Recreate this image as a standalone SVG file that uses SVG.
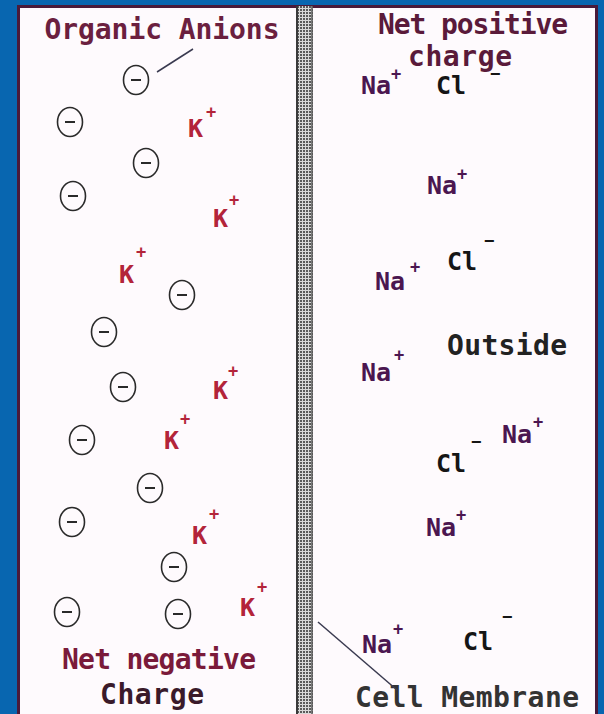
<svg xmlns="http://www.w3.org/2000/svg" width="604" height="714" viewBox="0 0 604 714">
<defs>
<pattern id="dots" x="0" y="0" width="3" height="3" patternUnits="userSpaceOnUse">
<rect width="3" height="3" fill="#d8d8d8"/>
<rect width="2" height="2" fill="#5a5a5a"/>
</pattern>
<style>
.t{font-family:"DejaVu Sans Mono","Liberation Mono",monospace;font-weight:bold}
.title{font-size:28px}
.ion{font-size:25px}
.sup{font-size:17px}
.na{fill:#4b1650}
.cl{fill:#151515}
.k{fill:#b3243a}
.an{fill:none;stroke:#2a2a2a;stroke-width:1.6}
.minus{stroke:#2a2a2a;stroke-width:2}
.lead{stroke:#3a3a50;stroke-width:1.5;fill:none}
</style>
</defs>
<rect x="0" y="0" width="604" height="714" fill="#0866b0"/>
<g id="panel">
<rect x="18.5" y="6.5" width="578" height="710" fill="#fefafd" stroke="#4a1a3a" stroke-width="3"/>
</g>
<g id="membrane">
<rect x="296" y="6" width="17" height="708" fill="url(#dots)"/>
<line x1="297" y1="6" x2="297" y2="714" stroke="#3a3a3a" stroke-width="2"/>
<line x1="312" y1="6" x2="312" y2="714" stroke="#5a5a5a" stroke-width="1.5"/>
</g>
<g id="labels">
<text class="t title" x="162" y="39" fill="#6b1f3f" text-anchor="middle" textLength="235" lengthAdjust="spacing">Organic Anions</text>
<text class="t title" x="473" y="34" fill="#5a1a3a" text-anchor="middle" textLength="190" lengthAdjust="spacing">Net positive</text>
<text class="t title" x="460" y="66" fill="#5a1a3a" text-anchor="middle" textLength="104" lengthAdjust="spacing">charge</text>
<text class="t title" x="159" y="669" fill="#7a1a3a" text-anchor="middle" textLength="194" lengthAdjust="spacing">Net negative</text>
<text class="t title" x="152" y="704" fill="#3a1a2a" text-anchor="middle" textLength="104" lengthAdjust="spacing">Charge</text>
<text class="t title" x="467" y="707" fill="#333333" text-anchor="middle" textLength="224" lengthAdjust="spacing">Cell Membrane</text>
<text class="t title" x="507" y="355" fill="#222222" text-anchor="middle" textLength="120" lengthAdjust="spacing">Outside</text>
</g>
<g id="connectors">
<line class="lead" x1="157" y1="72" x2="193" y2="49"/>
<line class="lead" x1="318" y1="622" x2="397" y2="690"/>
</g>
<g id="anions">
<g id="a1"><ellipse class="an" cx="136" cy="80" rx="12.5" ry="14.5"/><line class="minus" x1="131" y1="80" x2="141" y2="80"/></g>
<g id="a2"><ellipse class="an" cx="70" cy="122" rx="12.5" ry="14.5"/><line class="minus" x1="65" y1="122" x2="75" y2="122"/></g>
<g id="a3"><ellipse class="an" cx="146" cy="163" rx="12.5" ry="14.5"/><line class="minus" x1="141" y1="163" x2="151" y2="163"/></g>
<g id="a4"><ellipse class="an" cx="73" cy="196" rx="12.5" ry="14.5"/><line class="minus" x1="68" y1="196" x2="78" y2="196"/></g>
<g id="a5"><ellipse class="an" cx="182" cy="295" rx="12.5" ry="14.5"/><line class="minus" x1="177" y1="295" x2="187" y2="295"/></g>
<g id="a6"><ellipse class="an" cx="104" cy="332" rx="12.5" ry="14.5"/><line class="minus" x1="99" y1="332" x2="109" y2="332"/></g>
<g id="a7"><ellipse class="an" cx="123" cy="387" rx="12.5" ry="14.5"/><line class="minus" x1="118" y1="387" x2="128" y2="387"/></g>
<g id="a8"><ellipse class="an" cx="82" cy="440" rx="12.5" ry="14.5"/><line class="minus" x1="77" y1="440" x2="87" y2="440"/></g>
<g id="a9"><ellipse class="an" cx="150" cy="488" rx="12.5" ry="14.5"/><line class="minus" x1="145" y1="488" x2="155" y2="488"/></g>
<g id="a10"><ellipse class="an" cx="72" cy="522" rx="12.5" ry="14.5"/><line class="minus" x1="67" y1="522" x2="77" y2="522"/></g>
<g id="a11"><ellipse class="an" cx="174" cy="567" rx="12.5" ry="14.5"/><line class="minus" x1="169" y1="567" x2="179" y2="567"/></g>
<g id="a12"><ellipse class="an" cx="67" cy="612" rx="12.5" ry="14.5"/><line class="minus" x1="62" y1="612" x2="72" y2="612"/></g>
<g id="a13"><ellipse class="an" cx="178" cy="614" rx="12.5" ry="14.5"/><line class="minus" x1="173" y1="614" x2="183" y2="614"/></g>
</g>
<g id="potassium">
<g id="k1"><text class="t ion k" x="188" y="137">K</text><text class="t sup k" x="206" y="118">+</text></g>
<g id="k2"><text class="t ion k" x="213" y="227">K</text><text class="t sup k" x="229" y="206">+</text></g>
<g id="k3"><text class="t ion k" x="119" y="283">K</text><text class="t sup k" x="136" y="258">+</text></g>
<g id="k4"><text class="t ion k" x="213" y="399">K</text><text class="t sup k" x="228" y="377">+</text></g>
<g id="k5"><text class="t ion k" x="164" y="449">K</text><text class="t sup k" x="180" y="425">+</text></g>
<g id="k6"><text class="t ion k" x="192" y="544">K</text><text class="t sup k" x="209" y="520">+</text></g>
<g id="k7"><text class="t ion k" x="240" y="616">K</text><text class="t sup k" x="257" y="593">+</text></g>
</g>
<g id="sodium">
<g id="n1"><text class="t ion na" x="361" y="94">Na</text><text class="t sup na" x="391" y="80">+</text></g>
<g id="n2"><text class="t ion na" x="427" y="194">Na</text><text class="t sup na" x="457" y="180">+</text></g>
<g id="n3"><text class="t ion na" x="375" y="290">Na</text><text class="t sup na" x="410" y="273">+</text></g>
<g id="n4"><text class="t ion na" x="361" y="381">Na</text><text class="t sup na" x="394" y="361">+</text></g>
<g id="n5"><text class="t ion na" x="502" y="443">Na</text><text class="t sup na" x="533" y="428">+</text></g>
<g id="n6"><text class="t ion na" x="426" y="536">Na</text><text class="t sup na" x="456" y="521">+</text></g>
<g id="n7"><text class="t ion na" x="362" y="653">Na</text><text class="t sup na" x="393" y="635">+</text></g>
</g>
<g id="chloride">
<g id="c1"><text class="t ion cl" x="436" y="94">Cl</text><text class="t sup cl" x="490" y="79">−</text></g>
<g id="c2"><text class="t ion cl" x="447" y="270">Cl</text><text class="t sup cl" x="484" y="246">−</text></g>
<g id="c3"><text class="t ion cl" x="436" y="472">Cl</text><text class="t sup cl" x="471" y="447">−</text></g>
<g id="c4"><text class="t ion cl" x="463" y="650">Cl</text><text class="t sup cl" x="502" y="622">−</text></g>
</g>
</svg>
